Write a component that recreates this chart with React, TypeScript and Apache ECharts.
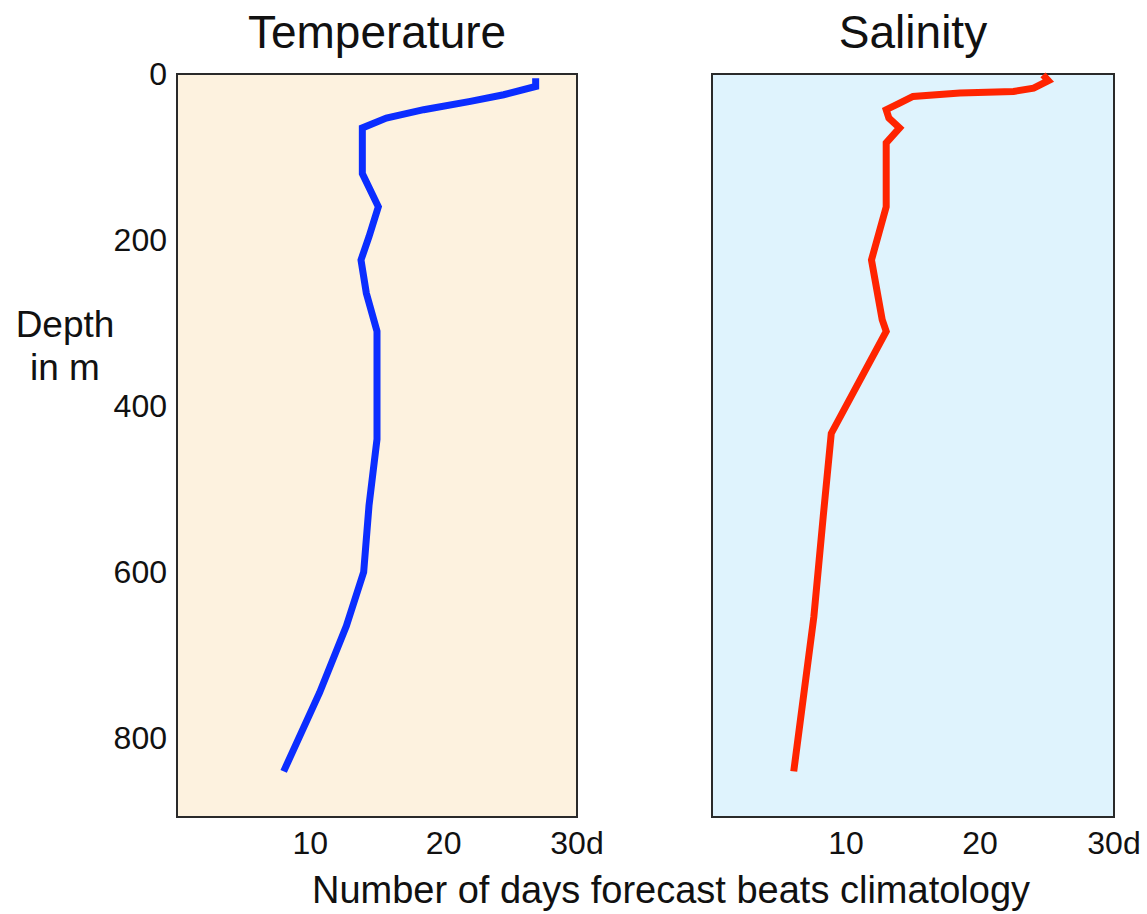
import React, { useEffect, useRef } from "react";
import * as echarts from "echarts";

// [days forecast beats climatology, depth in m]
const temperatureProfile: [number, number][] = [
  [26.9, 5], [26.9, 15], [24.5, 25], [22.0, 33], [18.5, 43], [15.7, 53],
  [13.9, 65], [13.9, 120], [15.1, 160], [14.4, 196], [13.8, 224], [14.2, 264],
  [15.0, 310], [15.0, 440], [14.4, 520], [14.0, 600], [12.7, 665], [10.7, 745],
  [8.0, 840],
];

const salinityProfile: [number, number][] = [
  [24.7, 1], [25.1, 8], [24.0, 17], [22.5, 21], [18.5, 23], [15.0, 27],
  [14.0, 35], [13.0, 43], [13.2, 53], [14.0, 65], [13.0, 83], [13.0, 160],
  [11.9, 224], [12.7, 296], [13.0, 310], [8.9, 433], [8.3, 533], [7.6, 654],
  [6.1, 840],
];

const panelTitles = ["Temperature", "Salinity"];
const depthTicks = [0, 200, 400, 600, 800];
const dayTicks = [10, 20, 30];
const depthMax = 895;
const daysMax = 30;

const FONT = "'Liberation Sans', Arial, Helvetica, sans-serif";
const TXT = "#111111";

export default function App() {
  const ref = useRef<HTMLDivElement>(null);

  useEffect(() => {
    if (!ref.current) return;
    const chart = echarts.init(ref.current, undefined, { renderer: "svg" });

    const grids = [
      { left: 177, top: 74, width: 400, height: 743 },
      { left: 712, top: 74, width: 402, height: 743 },
    ];
    const bgs = ["#fdf2df", "#dff3fd"];

    const xAxisBase = (gi: number) => ({
      type: "value" as const,
      gridIndex: gi,
      min: 0,
      max: daysMax,
      interval: 10,
      axisLine: { show: false },
      axisTick: { show: false },
      splitLine: { show: false },
      axisLabel: {
        margin: 10,
        fontSize: 32,
        fontFamily: FONT,
        color: TXT,
        formatter: (v: number) =>
          dayTicks.includes(v) ? (v === daysMax ? `${v}d` : `${v}`) : "",
      },
    });

    const yAxisBase = (gi: number, showLabels: boolean) => ({
      type: "value" as const,
      gridIndex: gi,
      inverse: true,
      min: 0,
      max: depthMax,
      interval: 200,
      axisLine: { show: false },
      axisTick: { show: false },
      splitLine: { show: false },
      axisLabel: {
        show: showLabels,
        margin: 10,
        fontSize: 32,
        fontFamily: FONT,
        color: TXT,
        formatter: (v: number) => (depthTicks.includes(v) ? `${v}` : ""),
      },
    });

    chart.setOption({
      animation: false,
      backgroundColor: "#ffffff",
      grid: grids.map((g, i) => ({
        ...g,
        show: true,
        backgroundColor: bgs[i],
        borderColor: "#2a2a2a",
        borderWidth: 2,
      })),
      xAxis: [xAxisBase(0), xAxisBase(1)],
      yAxis: [yAxisBase(0, true), yAxisBase(1, false)],
      series: [
        {
          type: "line",
          name: panelTitles[0],
          xAxisIndex: 0,
          yAxisIndex: 0,
          data: temperatureProfile,
          symbol: "none",
          lineStyle: { color: "#0b2dff", width: 7, cap: "butt", join: "miter" },
        },
        {
          type: "line",
          name: panelTitles[1],
          xAxisIndex: 1,
          yAxisIndex: 1,
          data: salinityProfile,
          symbol: "none",
          lineStyle: { color: "#ff2400", width: 7, cap: "butt", join: "miter" },
        },
      ],
      graphic: [
        {
          type: "text",
          x: 377,
          y: 32,
          style: {
            text: panelTitles[0],
            fontSize: 46,
            fontFamily: FONT,
            fill: TXT,
            align: "center",
            verticalAlign: "middle",
          },
        },
        {
          type: "text",
          x: 913,
          y: 32,
          style: {
            text: panelTitles[1],
            fontSize: 46,
            fontFamily: FONT,
            fill: TXT,
            align: "center",
            verticalAlign: "middle",
          },
        },
        {
          type: "text",
          x: 65,
          y: 346,
          style: {
            text: "Depth\nin m",
            fontSize: 37,
            lineHeight: 43,
            fontFamily: FONT,
            fill: TXT,
            align: "center",
            verticalAlign: "middle",
          },
        },
        {
          type: "text",
          x: 671,
          y: 890,
          style: {
            text: "Number of days forecast beats climatology",
            fontSize: 38,
            fontFamily: FONT,
            fill: TXT,
            align: "center",
            verticalAlign: "middle",
          },
        },
      ],
    });

    return () => chart.dispose();
  }, []);

  return (
    <div
      ref={ref}
      style={{ position: "fixed", left: 0, top: 0, width: 1147, height: 914 }}
    />
  );
}
